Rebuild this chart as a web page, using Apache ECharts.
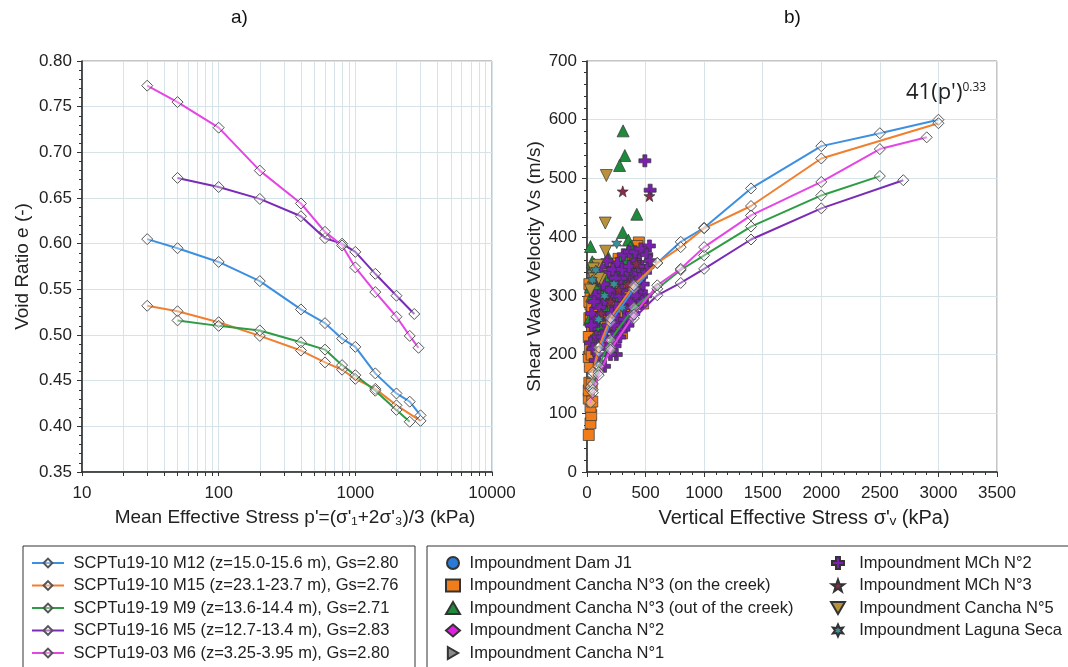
<!DOCTYPE html>
<html><head><meta charset="utf-8">
<script src="https://cdn.jsdelivr.net/npm/echarts@6/dist/echarts.min.js"></script>
<style>html,body{margin:0;padding:0;background:#fff}#c{width:1068px;height:667px}</style>
</head><body><div id="c"></div><script>
// ---------- DATA ----------
const lineNames = [
  'SCPTu19-10 M12 (z=15.0-15.6 m), Gs=2.80',
  'SCPTu19-10 M15 (z=23.1-23.7 m), Gs=2.76',
  'SCPTu19-19 M9 (z=13.6-14.4 m), Gs=2.71',
  'SCPTu19-16 M5 (z=12.7-13.4 m), Gs=2.83',
  'SCPTu19-03 M6 (z=3.25-3.95 m), Gs=2.80'
];
// stress levels (kPa)
const pM12 = [30,50,100,200,400,600,800,1000,1400,2000,2500,3000];
const pM15 = [30,50,100,200,400,600,800,1000,1400,2000,3000];
const pM9  = [50,100,200,400,600,800,1000,1400,2000,2500];
const pM5  = [50,100,200,400,600,800,1000,1400,2000,2700];
const pM6  = [30,50,100,200,400,600,800,1000,1400,2000,2500,2900];
// void ratio (chart a)
const eM12 = [0.605,0.595,0.580,0.559,0.528,0.513,0.496,0.487,0.458,0.436,0.427,0.412];
const eM15 = [0.532,0.526,0.514,0.499,0.483,0.470,0.462,0.452,0.441,0.423,0.406];
const eM9  = [0.516,0.510,0.505,0.492,0.484,0.467,0.456,0.439,0.418,0.405];
const eM5  = [0.672,0.662,0.649,0.630,0.606,0.600,0.591,0.567,0.543,0.523];
const eM6  = [0.773,0.755,0.727,0.680,0.644,0.613,0.598,0.574,0.547,0.520,0.499,0.486];
// shear wave velocity (chart b)
const vM12 = [140,165,205,255,312,356,392,416,483,555,577,600];
const vM15 = [145,170,212,262,318,356,383,415,453,534,594];
const vM9  = [150,180,225,280,312,344,369,418,471,504];
const vM5  = [140,170,212,262,301,322,346,396,449,497];
const vM6  = [118,135,165,208,268,318,346,383,437,494,550,570];

// field data (sigma'v kPa, Vs m/s)
const damJ1 = [[50,240],[150,270],[250,290],[120,230]];
const cancha1 = [[60,344],[40,330],[80,300],[50,338]];
const cancha2 = [[100,240],[200,250],[300,270],[150,220],[60,200],[250,232]];
const cancha3On = [[15,63],[30,83],[36,97],[30,111],[15,125],[15,139],[20,152],[24,179],[15,196],[30,224],[45,247],[20,262],[30,285],[50,300],[30,301],[75,314],[84,329],[100,305],[186,331],[210,298],[240,270],[135,258],[299,236],[299,327],[329,344],[269,363],[443,391],[430,385],[404,338],[359,312],[479,287],[160,280],[120,290],[60,270],[200,250],[250,300],[350,280],[420,330],[15,230],[25,210],[40,200],[55,320],[90,310],[45,120],[40,150],[260,355],[170,318],[380,360],[20,320],[100,330],[130,340],[200,350],[150,310],[230,340],[280,320],[320,300],[380,330],[410,310],[460,340],[180,290],[220,280],[70,280],[20,290],[45,280],[35,260],[110,260],[280,280],[330,270],[250,250]];
const cancha3Out = [[308,581],[323,539],[278,522],[425,439],[305,408],[30,384],[45,358],[353,395],[353,378],[284,349],[120,318],[30,315],[165,298],[90,338],[180,366],[300,366],[62,354],[371,383],[297,349],[194,321],[250,330],[400,350],[150,280],[100,250],[60,230],[40,300],[230,310],[330,360],[440,360],[20,260],[80,290],[130,300],[200,340],[270,300],[320,330],[380,350],[420,370],[210,280],[160,330],[60,320]];
const mch2 = [[494,530],[539,480],[533,385],[449,372],[389,338],[270,327],[230,300],[300,310],[350,330],[410,360],[470,350],[500,340],[150,290],[120,270],[100,300],[200,260],[250,280],[330,290],[380,300],[430,310],[480,320],[60,250],[80,230],[160,240],[220,230],[280,250],[350,260],[420,280],[40,270],[130,320],[190,340],[260,355],[310,370],[360,375],[450,330],[500,300],[170,210],[240,215],[290,240],[350,250],[70,300],[110,280],[90,260],[200,300],[280,300],[400,270],[460,300],[520,350],[30,220],[50,210],[70,190],[100,200],[130,230],[180,250],[210,270],[260,260],[320,280],[370,290],[420,300],[470,290],[440,350],[390,320],[340,340],[290,330],[240,330],[190,310],[140,320],[90,330],[60,290],[35,250],[120,350],[170,360],[220,345],[300,345],[360,350],[410,375],[460,380],[510,370],[540,360],[320,260],[280,230],[230,250],[380,270],[250,200],[200,200],[150,180]];
const mch3 = [[305,478],[533,470],[200,290],[350,320],[120,270],[420,355],[270,310]];
const cancha5 = [[165,505],[156,424],[159,376],[90,352],[54,346],[60,329],[120,328],[30,310],[100,330]];
const laguna = [[254,389],[45,327],[75,344],[150,300],[230,320],[100,260],[300,280]];

const logTicks = [10,20,30,40,50,60,70,80,90,100,200,300,400,500,600,700,800,900,1000,2000,3000,4000,5000,6000,7000,8000,9000,10000];

// ---------- STYLE ----------
const lineColors = ['#3d8fe0','#f07f2e','#2e9c44','#7b2bb5','#e545e5'];
const FONT = 'Liberation Sans, Arial, sans-serif';
const gridCol = '#d6e4ea';
const zip = (a,b) => a.map((v,i)=>[v,b[i]]);

const pArr = [pM12,pM15,pM9,pM5,pM6];
const eArr = [eM12,eM15,eM9,eM5,eM6];
const vArr = [vM12,vM15,vM9,vM5,vM6];

const series = [];
const crossPath = 'path://M-1,-3H1V-1H3V1H1V3H-1V1H-3V-1H-1Z';
const starPath = 'path://M0,-10L2.35,-3.24L9.51,-3.09L3.8,1.24L5.88,8.09L0,4L-5.88,8.09L-3.8,1.24L-9.51,-3.09L-2.35,-3.24Z';
const astPath = 'path://M0,-10L2.5,-4.3L8.66,-5L5,0L8.66,5L2.5,4.3L0,10L-2.5,4.3L-8.66,5L-5,0L-8.66,-5L-2.5,-4.3Z';
const downTri = 'path://M-5,-4.3L5,-4.3L0,4.3Z';
const rightTri = 'path://M-4.3,-5L4.3,0L-4.3,5Z';
const scat = [
  ['Impoundment Dam J1', damJ1, 'circle', '#2b7bd6', 10],
  ['Impoundment Cancha N°1', cancha1, rightTri, '#8a8a8a', 10],
  ['Impoundment Cancha N°2', cancha2, 'diamond', '#e020e0', 11],
  ['Impoundment Cancha N°3 (on the creek)', cancha3On, 'rect', '#f07d1a', 11],
  ['Impoundment Cancha N°3 (out of the creek)', cancha3Out, 'triangle', '#1f8a3c', 12],
  ['Impoundment MCh N°2', mch2, crossPath, '#7a1fb0', 12],
  ['Impoundment MCh N°3', mch3, starPath, '#8b2a4a', 11],
  ['Impoundment Cancha N°5', cancha5, downTri, '#b8913a', 12],
  ['Impoundment Laguna Seca', laguna, astPath, '#3a8f9a', 10]
];
scat.forEach(s => {
  series.push({
    name: s[0], type: 'scatter', xAxisIndex: 1, yAxisIndex: 1,
    data: s[1], symbol: s[2], symbolSize: s[4],
    itemStyle: {color: s[3], borderColor: '#333', borderWidth: 0.7, opacity: 1},
    silent: true, z: 2
  });
});
for (let i = 0; i < 5; i++) {
  const common = {
    name: lineNames[i], type: 'line', symbol: 'diamond', symbolSize: 11,
    showAllSymbol: true,
    lineStyle: {color: lineColors[i], width: 2},
    itemStyle: {color: 'rgba(255,255,255,0.35)', borderColor: '#555', borderWidth: 1},
    emphasis: {disabled: true}, silent: true, z: 5
  };
  series.push(Object.assign({}, common, {xAxisIndex: 0, yAxisIndex: 0, data: zip(pArr[i], eArr[i])}));
  series.push(Object.assign({}, common, {xAxisIndex: 1, yAxisIndex: 1, data: zip(pArr[i], vArr[i])}));
}

const axisLbl = {fontSize: 17, color: '#222', fontFamily: FONT};
const nameSt = {fontSize: 19, color: '#222', fontFamily: FONT};
const legText = {fontSize: 16.5, lineHeight: 17, color: '#222', fontFamily: FONT};

const option = {
  animation: false,
  backgroundColor: '#fff',
  grid: [
    {left: 82, top: 61, width: 410, height: 411, show: true, borderColor: '#8a8a8a', borderWidth: 1},
    {left: 587, top: 61, width: 410, height: 411, show: true, borderColor: '#8a8a8a', borderWidth: 1}
  ],
  xAxis: [
    {gridIndex: 0, type: 'log', logBase: 10, min: 10, max: 10000,
     name: "Mean Effective Stress p'=(σ'₁+2σ'₃)/3 (kPa)", nameLocation: 'middle', nameGap: 36,
     nameTextStyle: Object.assign({padding: [0, 0, 0, 16]}, nameSt),
     axisLine: {lineStyle: {color: '#222', width: 1.5}},
     axisTick: {show: true, length: 4, lineStyle: {color: '#333'}, customValues: logTicks},
     axisLabel: Object.assign({margin: 13, formatter: v => String(Math.round(v))}, axisLbl),
     splitLine: {show: true, lineStyle: {color: gridCol, width: 1}}},
    {gridIndex: 1, type: 'value', min: 0, max: 3500, interval: 500,
     name: "Vertical Effective Stress σ'ᵥ (kPa)", nameLocation: 'middle', nameGap: 36,
     nameTextStyle: Object.assign({padding: [0, 0, 0, 24]}, nameSt, {fontSize: 20}),
     axisLine: {lineStyle: {color: '#222', width: 1.5}},
     axisTick: {show: true, length: 5, lineStyle: {color: '#333'}},
     minorTick: {show: true, splitNumber: 5, length: 3, lineStyle: {color: '#333'}},
     axisLabel: Object.assign({margin: 13, formatter: v => String(v)}, axisLbl),
     splitLine: {show: true, lineStyle: {color: gridCol, width: 1}}}
  ],
  yAxis: [
    {gridIndex: 0, type: 'value', min: 0.35, max: 0.80, interval: 0.05,
     name: 'Void Ratio e (-)', nameLocation: 'middle', nameGap: 50, nameTextStyle: nameSt,
     axisLine: {show: true, lineStyle: {color: '#222', width: 1.5}},
     axisTick: {show: true, length: 5, lineStyle: {color: '#333'}},
     minorTick: {show: true, splitNumber: 5, length: 3, lineStyle: {color: '#333'}},
     axisLabel: Object.assign({margin: 10, formatter: v => v.toFixed(2)}, axisLbl),
     splitLine: {show: true, lineStyle: {color: gridCol, width: 1}}},
    {gridIndex: 1, type: 'value', min: 0, max: 700, interval: 100,
     name: 'Shear Wave Velocity Vs (m/s)', nameLocation: 'middle', nameGap: 42, nameTextStyle: nameSt,
     axisLine: {show: true, lineStyle: {color: '#222', width: 1.5}},
     axisTick: {show: true, length: 5, lineStyle: {color: '#333'}},
     minorTick: {show: true, splitNumber: 5, length: 3, lineStyle: {color: '#333'}},
     axisLabel: Object.assign({margin: 10}, axisLbl),
     splitLine: {show: true, lineStyle: {color: gridCol, width: 1}}}
  ],
  legend: [
    {data: lineNames, orient: 'vertical', left: 31, top: 554.5, padding: 0, itemGap: 5.5, itemWidth: 32, itemHeight: 11,
     selectedMode: false, formatter: n => ' ' + n, textStyle: legText},
    {data: ['Impoundment Dam J1','Impoundment Cancha N°3 (on the creek)','Impoundment Cancha N°3 (out of the creek)','Impoundment Cancha N°2','Impoundment Cancha N°1'],
     orient: 'vertical', left: 445, top: 554.5, padding: 0, itemGap: 5.5, itemWidth: 14, itemHeight: 12,
     selectedMode: false, formatter: n => ' ' + n, textStyle: legText},
    {data: ['Impoundment MCh N°2','Impoundment MCh N°3','Impoundment Cancha N°5','Impoundment Laguna Seca'],
     orient: 'vertical', left: 830, top: 554.5, padding: 0, itemGap: 5.5, itemWidth: 14, itemHeight: 12,
     selectedMode: false, formatter: n => '  ' + n, textStyle: legText}
  ],
  graphic: [
    {type: 'rect', shape: {x: 23, y: 546, width: 392, height: 140}, style: {fill: 'none', stroke: '#333', lineWidth: 1}, silent: true},
    {type: 'rect', shape: {x: 427, y: 546, width: 660, height: 140}, style: {fill: 'none', stroke: '#333', lineWidth: 1}, silent: true},
    {type: 'text', left: 231, top: 8, style: {text: 'a)', fontSize: 19, fill: '#111', fontFamily: FONT}, silent: true},
    {type: 'text', left: 784, top: 8, style: {text: 'b)', fontSize: 19, fill: '#111', fontFamily: FONT}, silent: true},
    {type: 'text', left: 906, top: 82, silent: true, z: 10,
     style: {text: "{a|41(p')}{b|0.33}", fill: '#222',
       rich: {a: {fontSize: 22, fontFamily: 'Open Sans, sans-serif', fill: '#222', verticalAlign: 'bottom'},
              b: {fontSize: 12, fontFamily: 'Open Sans, sans-serif', fill: '#222', verticalAlign: 'top'}}}}
  ],
  series: series
};
const chart = echarts.init(document.getElementById('c'), null, {renderer: 'canvas'});
chart.setOption(option);
</script></body></html>
